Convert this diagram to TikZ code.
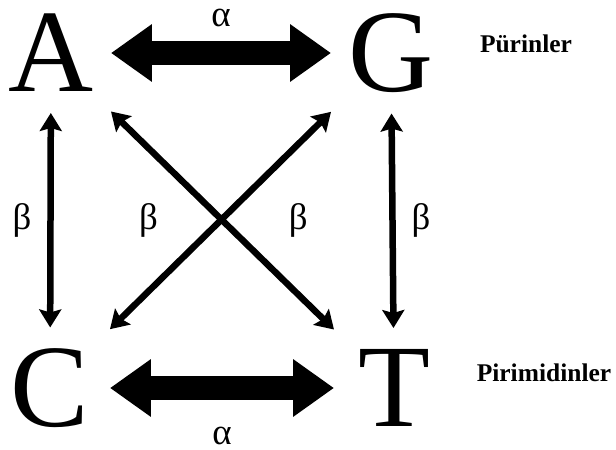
\documentclass[tikz,border=0pt]{standalone}
\usepackage{fontspec}
\setmainfont{Liberation Serif}
\usetikzlibrary{arrows.meta}

\begin{document}
\begin{tikzpicture}[x=0.02cm,y=-0.02cm,
  base/.style={inner sep=0pt,outer xsep=0pt,outer ysep=0.42cm,minimum width=2.4cm,minimum height=1.56cm,font=\fontsize{67}{67}\selectfont},
  greek/.style={inner sep=1pt,font=\fontsize{21}{21}\selectfont},
  group/.style={font=\fontsize{14.5}{15}\selectfont\bfseries},
  big/.style={line width=0.48cm,{Triangle[length=0.82cm,width=1.1cm]}-{Triangle[length=0.82cm,width=1.1cm]}},
  thin/.style={line width=0.13cm,{Stealth[length=0.36cm,width=0.44cm,inset=0.06cm]}-{Stealth[length=0.36cm,width=0.44cm,inset=0.06cm]}}]
\useasboundingbox (0,0) rectangle (616,450);
\node[base] (A) at (51,53) {A};
\node[base] (G) at (391,53) {G};
\node[base] (C) at (50,388) {C};
\node[base] (T) at (394,388) {T};
\node[group] (pur) at (526,44) {Pürinler};
\node[group] (pir) at (544,373) {Pirimidinler};
\draw[big] (A) -- (G) node[midway,above=0.24cm,greek]{α};
\draw[big] (C) -- (T) node[midway,below=0.5cm,greek]{α};
\draw[thin] (A) -- (C) node[midway,left=0.28cm,greek]{β};
\draw[thin] (G) -- (T) node[midway,right=0.28cm,greek]{β};
\draw[thin] (A) -- (T) node[midway,left=1.19cm,greek]{β};
\draw[thin] (G) -- (C) node[midway,right=1.27cm,greek]{β};
\end{tikzpicture}
\end{document}
